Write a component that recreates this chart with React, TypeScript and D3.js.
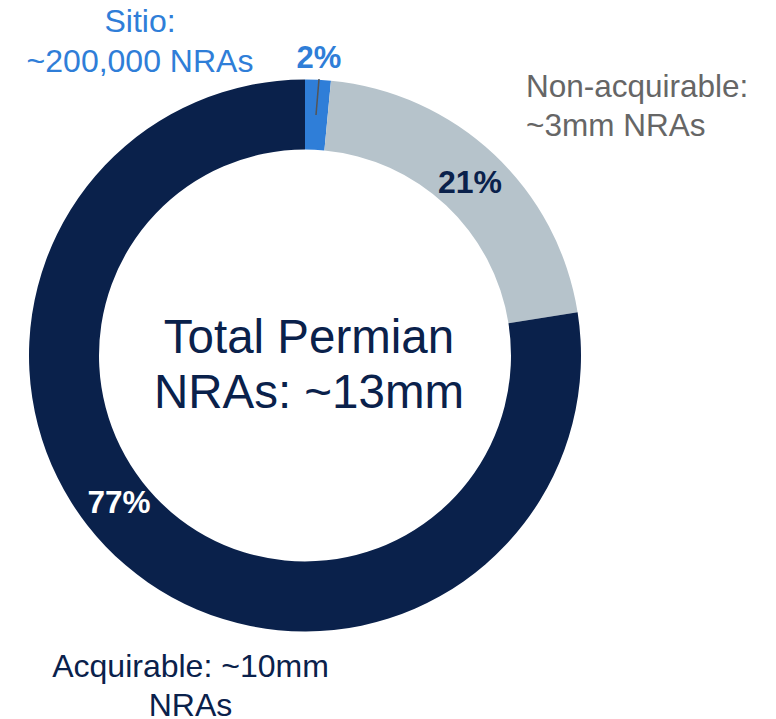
import * as d3 from 'd3';

// Permian NRA split
const segments = ["Sitio", "Non-acquirable", "Acquirable"];
const shares = [1.5, 21, 77.5];
const pctLabels = ["2%", "21%", "77%"];
const colors = ["#2F7ED8", "#B6C3CB", "#0A214B"];

const FONT = "'Liberation Sans', Arial, sans-serif";

const App = () => {
    const width = 776;
    const height = 719;
    const cx = 305;
    const cy = 355.5;
    const outerR = 276;
    const innerR = 206;

    const pie = d3.pie<number>().sort(null).value(d => d);
    const arcs = pie(shares);
    const arc = d3.arc<d3.PieArcDatum<number>>().innerRadius(innerR).outerRadius(outerR);

    return (
        <svg width={width} height={height} style={{ position: 'absolute', left: 0, top: 0 }} fontFamily={FONT}>
            <rect width={width} height={height} fill="#fff" />
            <g transform={`translate(${cx}, ${cy})`}>
                {arcs.map((a, i) => (
                    <path key={segments[i]} d={arc(a) || ''} fill={colors[i]} />
                ))}
            </g>

            {/* leader line for the small slice */}
            <line x1={319} y1={79} x2={316} y2={115} stroke="#555" strokeWidth={1.5} />

            {/* percent labels */}
            <text x={319} y={68} textAnchor="middle" fontSize={31} fontWeight="bold" fill={colors[0]}>{pctLabels[0]}</text>
            <text x={470} y={193} textAnchor="middle" fontSize={32} fontWeight="bold" fill={colors[2]}>{pctLabels[1]}</text>
            <text x={119} y={513} textAnchor="middle" fontSize={31.5} fontWeight="bold" fill="#fff">{pctLabels[2]}</text>

            {/* segment labels */}
            <text textAnchor="middle" fontSize={32} fill={colors[0]}>
                <tspan x={140} y={32}>Sitio:</tspan>
                <tspan x={140} y={72}>~200,000 NRAs</tspan>
            </text>
            <text fontSize={31.5} fill="#666">
                <tspan x={526} y={97}>Non-acquirable:</tspan>
                <tspan x={526} y={136}>~3mm NRAs</tspan>
            </text>
            <text textAnchor="middle" fontSize={32} fill={colors[2]}>
                <tspan x={190.5} y={677}>Acquirable: ~10mm</tspan>
                <tspan x={190.5} y={716}>NRAs</tspan>
            </text>

            {/* centre title */}
            <text textAnchor="middle" fontSize={47.5} fill={colors[2]}>
                <tspan x={309} y={353}>Total Permian</tspan>
                <tspan x={309} y={408}>NRAs: ~13mm</tspan>
            </text>
        </svg>
    );
};

export default App;
